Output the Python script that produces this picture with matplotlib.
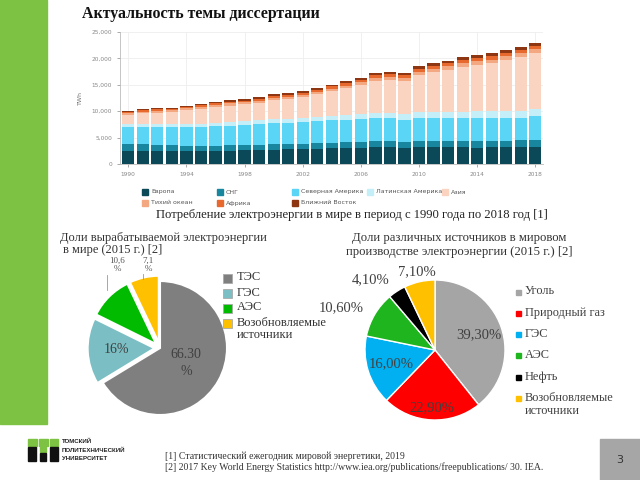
import numpy as np
import matplotlib
matplotlib.use("Agg")
import matplotlib.pyplot as plt
from matplotlib.patches import Rectangle

# ---- данные ----
years = list(range(1990, 2019))

# потребление по регионам, тыс. ТВт*ч
europe = [2.45, 2.45, 2.42, 2.40, 2.40, 2.45, 2.52, 2.55, 2.60, 2.65, 2.72, 2.80, 2.85, 2.92, 2.98,
          3.05, 3.10, 3.15, 3.18, 3.05, 3.20, 3.15, 3.17, 3.15, 3.10, 3.15, 3.18, 3.22, 3.25]
cis = [1.30, 1.28, 1.20, 1.12, 1.05, 1.00, 0.98, 0.97, 0.96, 0.98, 1.00, 1.02, 1.03, 1.05, 1.08,
       1.10, 1.13, 1.16, 1.18, 1.12, 1.18, 1.20, 1.22, 1.22, 1.23, 1.22, 1.25, 1.27, 1.30]
north_america = [3.30, 3.35, 3.38, 3.45, 3.52, 3.60, 3.70, 3.75, 3.82, 3.90, 4.00, 3.95, 4.05, 4.10, 4.18,
                 4.25, 4.25, 4.35, 4.32, 4.20, 4.33, 4.32, 4.28, 4.32, 4.35, 4.33, 4.32, 4.30, 4.45]
latin_america = [0.50, 0.52, 0.54, 0.56, 0.59, 0.62, 0.65, 0.68, 0.71, 0.73, 0.76, 0.78, 0.81, 0.84, 0.88,
                 0.92, 0.96, 1.00, 1.04, 1.05, 1.10, 1.15, 1.20, 1.24, 1.27, 1.30, 1.31, 1.33, 1.35]
asia = [1.75, 2.02, 2.20, 2.33, 2.61, 2.82, 2.95, 3.11, 3.19, 3.33, 3.62, 3.72, 3.94, 4.26, 4.64,
        4.98, 5.50, 6.07, 6.15, 6.32, 7.06, 7.61, 8.00, 8.48, 8.83, 9.09, 9.68, 10.14, 10.60]
pacific = [0.30, 0.31, 0.32, 0.33, 0.35, 0.36, 0.38, 0.40, 0.41, 0.43, 0.45, 0.46, 0.48, 0.50, 0.52,
           0.54, 0.56, 0.58, 0.60, 0.60, 0.63, 0.64, 0.66, 0.68, 0.69, 0.70, 0.72, 0.73, 0.75]
africa = [0.25, 0.26, 0.27, 0.28, 0.29, 0.30, 0.31, 0.32, 0.33, 0.34, 0.35, 0.36, 0.37, 0.39, 0.41,
          0.43, 0.45, 0.47, 0.49, 0.50, 0.52, 0.53, 0.55, 0.57, 0.58, 0.60, 0.62, 0.63, 0.65]
middle_east = [0.20, 0.21, 0.22, 0.23, 0.24, 0.25, 0.26, 0.27, 0.28, 0.29, 0.30, 0.31, 0.32, 0.34, 0.36,
               0.38, 0.40, 0.42, 0.44, 0.46, 0.48, 0.50, 0.52, 0.54, 0.55, 0.56, 0.57, 0.58, 0.60]

regions = ["Европа", "СНГ", "Северная Америка", "Латинская Америка", "Азия",
           "Тихий океан", "Африка", "Ближний Восток"]
region_colors = ["#0b4858", "#17869e", "#5ad5f6", "#c4eef8", "#fad4c0",
                 "#f4a882", "#e8692d", "#8e3612"]

# левая диаграмма
pie1_labels = ["ТЭС", "ГЭС", "АЭС", "Возобновляемые\nисточники"]
pie1_values = [66.3, 16.0, 10.6, 7.1]
pie1_texts = ["66.30\n%", "16%", "10,6\n%", "7,1\n%"]
pie1_colors = ["#7f7f7f", "#7bbfc4", "#00bb00", "#ffc000"]

# правая диаграмма
pie2_labels = ["Уголь", "Природный газ", "ГЭС", "АЭС", "Нефть", "Возобновляемые\nисточники"]
pie2_values = [39.3, 22.9, 16.0, 10.6, 4.1, 7.1]
pie2_colors = ["#a5a5a5", "#ff0000", "#00b0f0", "#1fb51f", "#000000", "#ffc000"]

W, H = 640, 480
serif = "Liberation Serif"


def fx(x):
    return x / W


def fy(y):
    return 1 - y / H


fig = plt.figure(figsize=(6.4, 4.8), dpi=100)

# зеленая полоса слева
fig.patches.append(Rectangle((0, fy(424)), fx(47), 424 / H, transform=fig.transFigure,
                             color="#7dc242", zorder=0))

fig.text(fx(82), fy(14), "Актуальность темы диссертации", fontsize=11.4, fontweight="bold",
         family=serif, va="center", color="#111")

# ---- столбчатая диаграмма ----
ax = fig.add_axes([fx(120), fy(164), (543 - 120) / W, (164 - 32) / H])
bottom = np.zeros(len(years))
series = [europe, cis, north_america, latin_america, asia, pacific, africa, middle_east]
for vals, col in zip(series, region_colors):
    v = np.array(vals) * 1000
    ax.bar(years, v, 0.84, bottom=bottom, color=col, zorder=2)
    bottom += v

ax.set_xlim(1989.43, 2018.53)
ax.set_ylim(0, 25000)
ax.set_xticks(range(1990, 2019, 4))
ax.set_yticks(range(0, 25001, 5000))
ax.set_yticklabels([f"{t:,}" for t in range(0, 25001, 5000)])
ax.tick_params(labelsize=4.2, colors="#888", length=2, width=0.5)
ax.set_ylabel("TWh", fontsize=4.5, color="#777", labelpad=6)
ax.grid(True, color="#eeeeee", linewidth=0.6, zorder=0)
for s in ["top", "right"]:
    ax.spines[s].set_visible(False)
for s in ["left", "bottom"]:
    ax.spines[s].set_color("#bbbbbb")
    ax.spines[s].set_linewidth(0.6)

# легенда
for i, (name, col) in enumerate(zip(regions, region_colors)):
    r, c = divmod(i, 5)
    x0 = 145 + 75 * c
    y0 = 192 + 11 * r
    fig.patches.append(Rectangle((fx(x0 - 3), fy(y0 + 3)), 6 / W, 6 / H,
                                 transform=fig.transFigure, color=col))
    fig.text(fx(x0 + 6), fy(y0), name, fontsize=4.5, color="#555", va="center")

fig.text(fx(352), fy(215), "Потребление электроэнергии в мире в период с 1990 года по 2018 год [1]",
         ha="center", va="center", fontsize=9.1, family=serif, color="#222")

# ---- левая круговая ----
fig.text(fx(60), fy(238), "Доли вырабатываемой электроэнергии", fontsize=9, family=serif,
         color="#333", va="center")
fig.text(fx(63), fy(250), "в мире (2015 г.) [2]", fontsize=9, family=serif, color="#333", va="center")

R1 = 67
ax1 = fig.add_axes([fx(160 - R1 * 1.3), fy(348 + R1 * 1.3), 2.6 * R1 / W, 2.6 * R1 / H])
w1, _ = ax1.pie(pie1_values, colors=pie1_colors, startangle=90, counterclock=False,
                explode=[0, 0.08, 0.08, 0.08],
                wedgeprops=dict(edgecolor="white", linewidth=1.5))
ax1.set_xlim(-1.3, 1.3)
ax1.set_ylim(-1.3, 1.3)
ax1.axis("off")
for k, d in [(0, 0.45), (1, 0.57)]:
    wd = w1[k]
    a = np.deg2rad((wd.theta1 + wd.theta2) / 2)
    cx, cy = wd.center
    ax1.text(cx + d * np.cos(a), cy + d * np.sin(a), pie1_texts[k], ha="center", va="center",
             fontsize=10, family=serif, color="#404040", linespacing=1.4)
# выноски сверху
fig.text(fx(117), fy(265), pie1_texts[2], ha="center", va="center", fontsize=6.5, family=serif,
         color="#555", linespacing=0.95)
fig.text(fx(148), fy(265), pie1_texts[3], ha="center", va="center", fontsize=6.5, family=serif,
         color="#555", linespacing=0.95)
fig.add_artist(plt.Line2D([fx(107), fx(107)], [fy(275), fy(290)], color="#999", linewidth=0.6))
fig.add_artist(plt.Line2D([fx(143), fx(143)], [fy(274), fy(279)], color="#999", linewidth=0.6))

for i, (name, col) in enumerate(zip(pie1_labels, pie1_colors)):
    y0 = 278 + 15 * i
    fig.patches.append(Rectangle((fx(223), fy(y0 + 4.5)), 9 / W, 9 / H, transform=fig.transFigure,
                                 facecolor=col, edgecolor="#aaa", linewidth=0.6))
    fig.text(fx(237), fy(y0 - 6.5), name, fontsize=9, family=serif, color="#333", va="top",
             linespacing=1.05)

# ---- правая круговая ----
fig.text(fx(459), fy(245), "Доли различных источников в мировом\nпроизводстве электроэнергии (2015 г.) [2]",
         ha="center", va="center", fontsize=9.2, family=serif, color="#333", linespacing=1.2)

R2 = 70
ax2 = fig.add_axes([fx(435 - R2 * 1.5), fy(350 + R2 * 1.5), 3 * R2 / W, 3 * R2 / H])
w2, _ = ax2.pie(pie2_values, colors=pie2_colors, startangle=90, counterclock=False,
                wedgeprops=dict(edgecolor="white", linewidth=1))
ax2.set_xlim(-1.5, 1.5)
ax2.set_ylim(-1.5, 1.5)
ax2.axis("off")
label_pos = [(0.66, "center"), (0.83, "center"), (0.66, "center"),
             (1.18, "right"), (1.2, "right"), (1.15, "center")]
for wd, v, (d, ha) in zip(w2, pie2_values, label_pos):
    a = np.deg2rad((wd.theta1 + wd.theta2) / 2)
    ax2.text(d * np.cos(a), d * np.sin(a), f"{v:.2f}%".replace(".", ","), ha=ha,
             va="center", fontsize=10.5, family=serif, color="#404040")

for i, (name, col) in enumerate(zip(pie2_labels, pie2_colors)):
    y0 = 292 + 21.3 * i
    fig.patches.append(Rectangle((fx(516), fy(y0 + 2.5)), 5 / W, 5 / H, transform=fig.transFigure,
                                 color=col))
    fig.text(fx(525), fy(y0 - 6.5), name, fontsize=8.8, family=serif, color="#404040", va="top",
             linespacing=1.15)

# ---- низ слайда ----
logo = [((28, 439, 37, 446), "#7dc242"), ((39, 439, 48, 446), "#7dc242"), ((50, 439, 58, 446), "#7dc242"),
        ((28, 447, 36, 461), "#111111"), ((50, 447, 58, 461), "#111111"),
        ((40, 447, 46, 452), "#7dc242"), ((40, 453, 46, 461), "#111111")]
for (x1, y1, x2, y2), col in logo:
    fig.patches.append(Rectangle((fx(x1), fy(y2)), (x2 - x1) / W, (y2 - y1) / H,
                                 transform=fig.transFigure, color=col))
for txt, y0 in [("ТОМСКИЙ", 441), ("ПОЛИТЕХНИЧЕСКИЙ", 450), ("УНИВЕРСИТЕТ", 459)]:
    fig.text(fx(62), fy(y0), txt, fontsize=4.4, fontweight="bold", family="Liberation Sans",
             color="#222", va="center")

fig.text(fx(165), fy(456), "[1] Статистический ежегодник мировой энергетики, 2019",
         fontsize=7, family=serif, color="#333", va="center")
fig.text(fx(165), fy(467),
         "[2] 2017 Key World Energy Statistics http://www.iea.org/publications/freepublications/ 30. IEA.",
         fontsize=7, family=serif, color="#333", va="center")

fig.patches.append(Rectangle((fx(600), 0), 40 / W, (480 - 439) / H, transform=fig.transFigure,
                             color="#a6a6a6"))
fig.text(fx(620), fy(460), "3", fontsize=8, color="#333", ha="center", va="center")

fig.savefig("out.png", dpi=100)
